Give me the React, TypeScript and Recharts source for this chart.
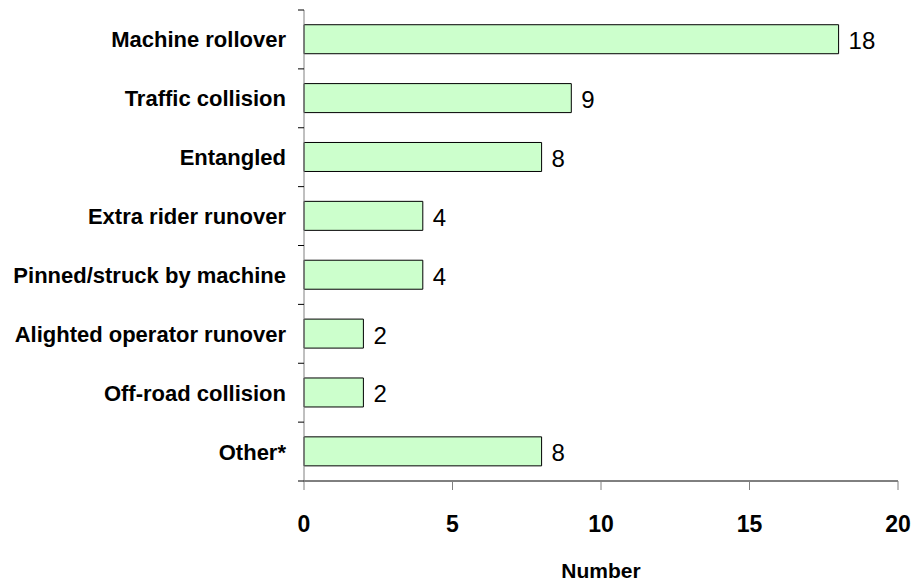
import { Bar, BarChart, LabelList, XAxis, YAxis } from 'recharts'

const categories = [
  'Machine rollover',
  'Traffic collision',
  'Entangled',
  'Extra rider runover',
  'Pinned/struck by machine',
  'Alighted operator runover',
  'Off-road collision',
  'Other*',
]
const counts = [18, 9, 8, 4, 4, 2, 2, 8]
const xTicks = [0, 5, 10, 15, 20]

const data = categories.map((name, i) => ({ name, count: counts[i] }))

const FONT = "Arial, 'Liberation Sans', sans-serif"
const Y_TICK_SIZE = 6
const Y_TICK_MARGIN = 12

// etiqueta de categoria + marca de divisão entre as faixas (estilo Excel)
function CategoryTick({ x, y, payload, index, visibleTicksCount }: any) {
  const half = payload?.offset ?? 29.4
  const x0 = x + Y_TICK_MARGIN
  return (
    <g>
      <line x1={x0} x2={x0 + Y_TICK_SIZE} y1={y - half} y2={y - half} stroke="#000" />
      {index === visibleTicksCount - 1 && (
        <line x1={x0} x2={x0 + Y_TICK_SIZE} y1={y + half} y2={y + half} stroke="#000" />
      )}
      <text
        x={x}
        y={y}
        dy={8}
        textAnchor="end"
        fill="#000"
        fontSize={22}
        fontWeight="bold"
        fontFamily={FONT}
      >
        {payload.value}
      </text>
    </g>
  )
}

function ValueLabel({ x, y, width, height, value }: any) {
  return (
    <text
      x={x + width + 10}
      y={y + height / 2}
      dy={10}
      fill="#000"
      fontSize={24}
      fontFamily={FONT}
    >
      {value}
    </text>
  )
}

export default function App() {
  return (
    <div style={{ position: 'absolute', left: 0, top: 0, background: '#fff' }}>
      <BarChart
        width={922}
        height={583}
        data={data}
        layout="vertical"
        margin={{ top: 10, right: 24, bottom: 0, left: 0 }}
        barCategoryGap="25%"
      >
        <XAxis
          type="number"
          domain={[0, 20]}
          ticks={xTicks}
          height={102}
          axisLine={{ stroke: '#000' }}
          tickLine={{ stroke: '#808080' }}
          tickSize={9}
          tickMargin={26}
          tick={{ fill: '#000', fontSize: 23, fontWeight: 'bold', fontFamily: FONT }}
          label={{
            value: 'Number',
            position: 'insideBottom',
            offset: 5,
            fill: '#000',
            fontSize: 21,
            fontWeight: 'bold',
            fontFamily: FONT,
          }}
        />
        <YAxis
          type="category"
          dataKey="name"
          width={304}
          axisLine={{ stroke: '#808080' }}
          tickLine={false}
          tickSize={Y_TICK_SIZE}
          tickMargin={Y_TICK_MARGIN}
          tick={<CategoryTick />}
          interval={0}
        />
        <Bar dataKey="count" fill="#CCFFCC" stroke="#000" strokeWidth={1} isAnimationActive={false}>
          <LabelList dataKey="count" content={<ValueLabel />} />
        </Bar>
      </BarChart>
    </div>
  )
}
